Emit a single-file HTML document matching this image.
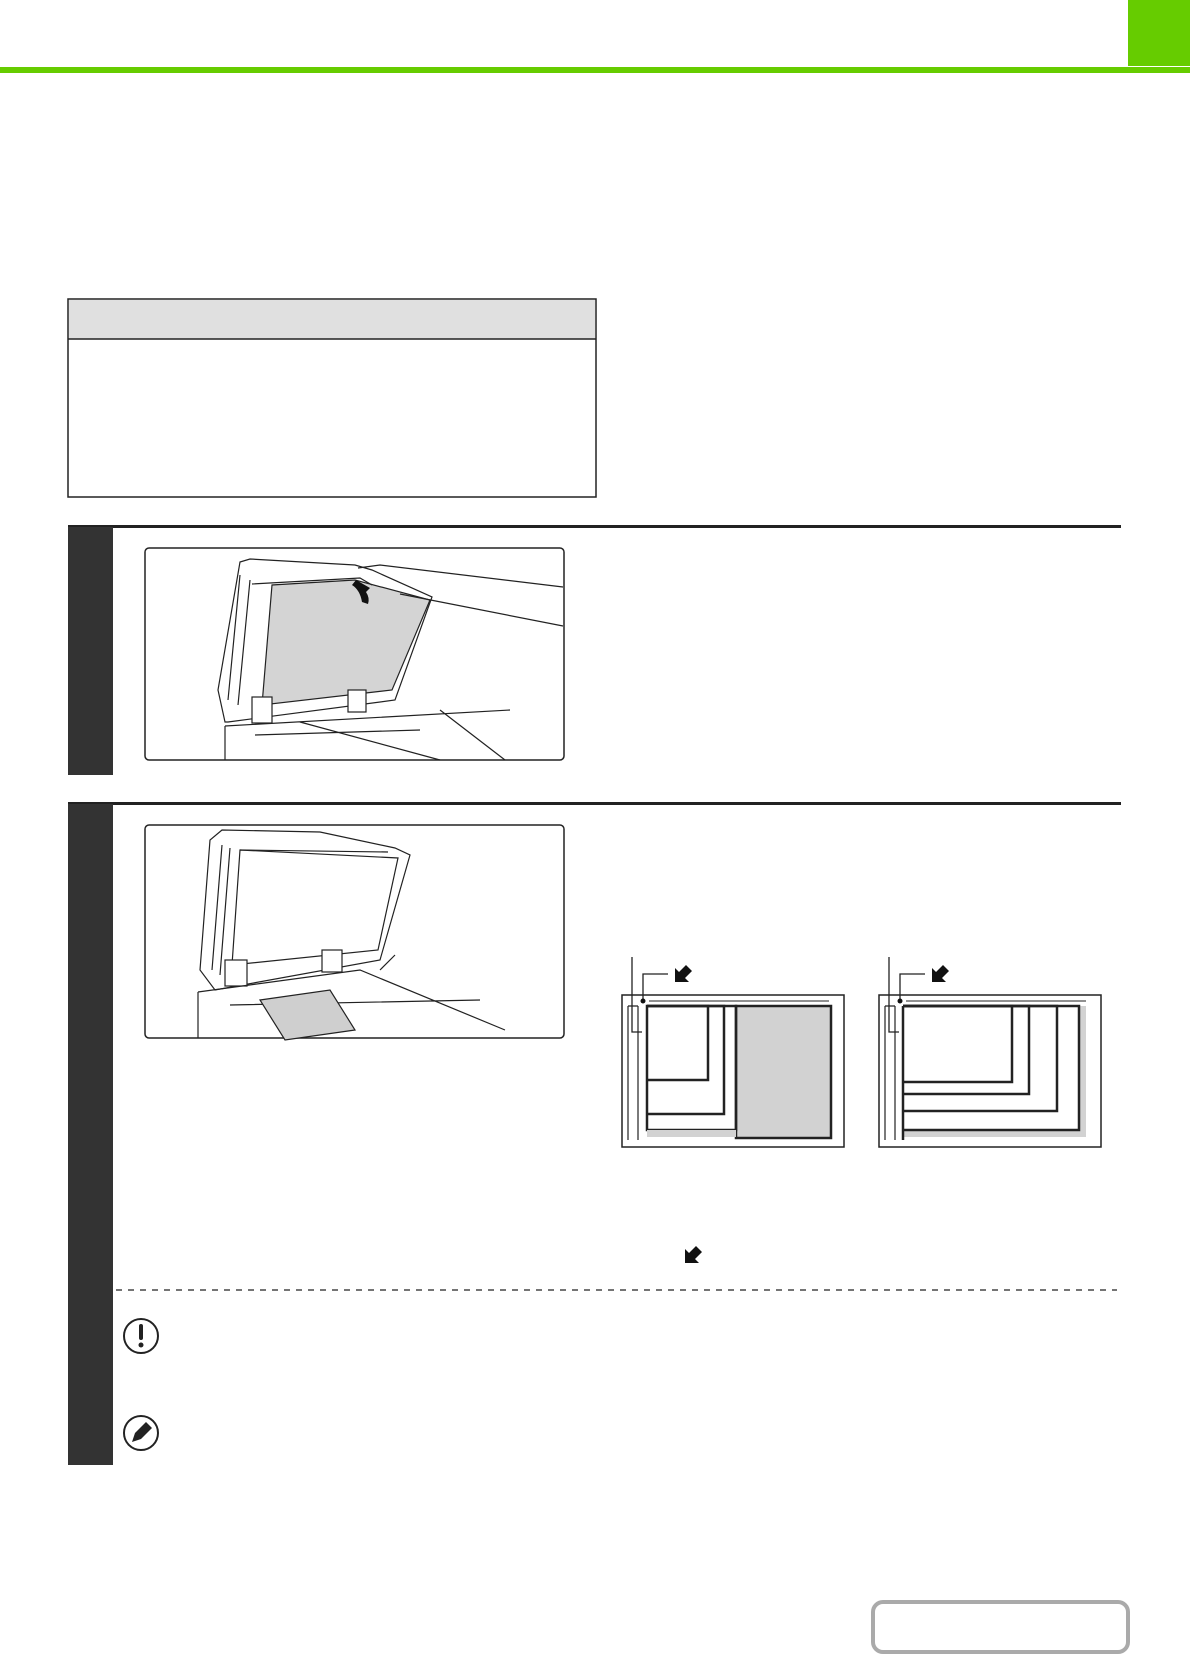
<!DOCTYPE html>
<html><head><meta charset="utf-8"><style>
html,body{margin:0;padding:0;background:#fff;}
body{width:1190px;height:1656px;position:relative;overflow:hidden;font-family:"Liberation Sans",sans-serif;}
</style></head><body>
<svg width="1190" height="1656" viewBox="0 0 1190 1656" xmlns="http://www.w3.org/2000/svg" style="position:absolute;left:0;top:0">
<rect x="1128" y="0" width="62" height="66" fill="#66cc00"/>
<rect x="0" y="67" width="1190" height="6" fill="#66cc00"/>
<rect x="68" y="299" width="528" height="198" fill="#fff" stroke="#222" stroke-width="1.5"/>
<rect x="69" y="300" width="526" height="39" fill="#e0e0e0"/>
<line x1="68" y1="339" x2="596" y2="339" stroke="#222" stroke-width="1.5"/>
<rect x="68" y="525" width="1053" height="3" fill="#222"/>
<rect x="68" y="527" width="45" height="248" fill="#333"/>
<rect x="145" y="548" width="419" height="212" rx="4" fill="#fff" stroke="#222" stroke-width="1.5"/>
<g stroke="#222" stroke-width="1.2" fill="none">
<path d="M225,722 L218,690 L240,562 L250,559 L355,565 L372,570 L432,597 L395,700 L228,722 Z" fill="#fff"/>
<path d="M262,705 L272,585 L355,580 L430,600 L392,690 Z" fill="#d4d4d4"/>
<path d="M240,575 L228,700 M250,580 L238,705"/>
<path d="M252,584 L360,578 L372,585"/>
<rect x="252" y="697" width="20" height="26" fill="#fff"/>
<rect x="348" y="690" width="18" height="22" fill="#fff"/>
<path d="M225,726 L510,710 M225,726 L225,760 M300,722 L440,760 M440,710 L505,760 M255,735 L420,730 M358,568 L380,565 L563,587 M400,594 L563,626"/>
</g>
<path d="M362,602 Q360,590 352,585 L356,580 L370,588 L366,592 Q370,598 368,604 Z" fill="#111"/>
<rect x="68" y="802" width="1053" height="3" fill="#222"/>
<rect x="68" y="804" width="45" height="661" fill="#333"/>
<rect x="145" y="825" width="419" height="213" rx="4" fill="#fff" stroke="#222" stroke-width="1.5"/>
<g stroke="#222" stroke-width="1.2" fill="none">
<path d="M200,970 L210,840 L222,830 L320,832 L395,848 L410,855 L380,960 L215,990 Z" fill="#fff"/>
<path d="M232,965 L240,850 L398,858 L378,950 Z" fill="#fff"/>
<path d="M222,845 L212,970 M230,848 L220,975 M240,850 L388,852"/>
<rect x="225" y="960" width="22" height="26" fill="#fff"/>
<rect x="322" y="950" width="20" height="22" fill="#fff"/>
<path d="M198,992 L360,970 L505,1030 M198,992 L198,1038 M230,1005 L480,1000 M380,970 L395,955"/>
<path d="M260,1000 L330,990 L355,1030 L285,1040 Z" fill="#cfcfcf"/>
</g>
<g stroke="#222" fill="none">
<rect x="622" y="995" width="222" height="152" stroke-width="1.5"/>
<line x1="649" y1="1001" x2="829" y2="1001" stroke-width="1"/>
<path d="M628,1006 V1140 M638,1006 V1140 M628,1006 H638" stroke-width="1.2"/>
<path d="M632,957 V1032 H642" stroke-width="1.3"/>
<path d="M643,1001 V974 H668" stroke-width="1.3"/>
<rect x="736" y="1006" width="95" height="132" fill="#d2d2d2" stroke-width="2.5"/>
<path d="M647,1006 H736 V1130 H647 Z" stroke-width="2.5"/>
<path d="M647,1006 H708 V1080 H647" stroke-width="2.5"/>
<path d="M647,1006 H724 V1114 H647" stroke-width="2.5"/>
<rect x="647" y="1130" width="89" height="7" fill="#d2d2d2" stroke="none"/>
<rect x="879" y="995" width="222" height="152" stroke-width="1.5"/>
<line x1="906" y1="1001" x2="1086" y2="1001" stroke-width="1"/>
<path d="M885,1006 V1140 M895,1006 V1140 M885,1006 H895" stroke-width="1.2"/>
<path d="M889,957 V1032 H899" stroke-width="1.3"/>
<path d="M900,1001 V974 H925" stroke-width="1.3"/>
<rect x="1079" y="1006" width="7" height="131" fill="#d2d2d2" stroke="none"/>
<rect x="903" y="1130" width="183" height="7" fill="#d2d2d2" stroke="none"/>
<path d="M903,1006 H1079 V1130 H903" stroke-width="2.5"/>
<path d="M903,1006 H1057 V1111 H903" stroke-width="2.5"/>
<path d="M903,1006 H1029 V1094 H903" stroke-width="2.5"/>
<path d="M903,1006 H1012 V1082 H903" stroke-width="2.5"/>
<line x1="903" y1="1006" x2="903" y2="1140" stroke-width="2.5"/>
</g>
<g fill="#111">
<circle cx="643" cy="1001" r="2.5"/><circle cx="900" cy="1001" r="2.5"/>
<path d="M675,982 L675,968 L679,972 L686,965 L692,971 L685,978 L689,982 Z"/>
<path d="M932,982 L932,968 L936,972 L943,965 L949,971 L942,978 L946,982 Z"/>
<path d="M685,1263 L685,1249 L689,1253 L696,1246 L702,1252 L695,1259 L699,1263 Z"/>
</g>
<line x1="116" y1="1290" x2="1117" y2="1290" stroke="#222" stroke-width="1.2" stroke-dasharray="6,6"/>
<circle cx="141" cy="1336" r="17" fill="#fff" stroke="#222" stroke-width="2"/>
<rect x="139" y="1324" width="4" height="16" rx="2" fill="#222"/>
<circle cx="141" cy="1345" r="2.5" fill="#222"/>
<circle cx="141" cy="1433" r="17" fill="#fff" stroke="#222" stroke-width="2"/>
<path d="M132,1442 L135,1433 L146,1422 L152,1428 L141,1439 Z" fill="#222"/>
<rect x="873" y="1602" width="255" height="50" rx="10" fill="#fff" stroke="#aaa" stroke-width="4"/>
</svg>
</body></html>
